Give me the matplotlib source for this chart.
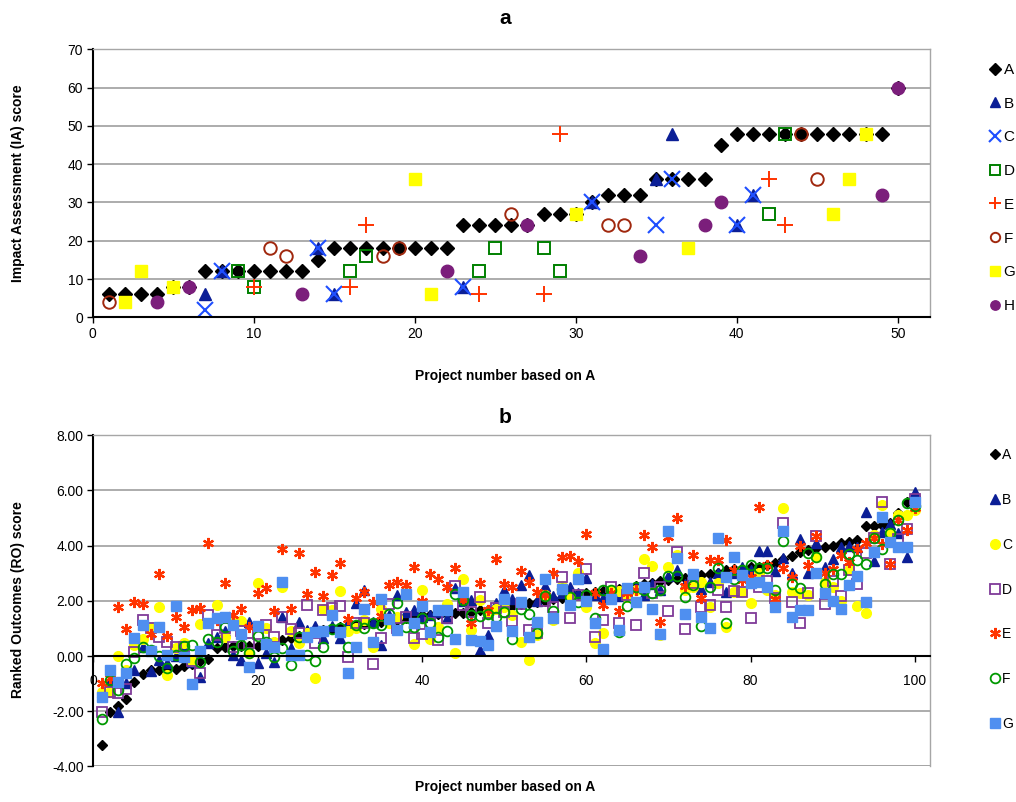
import numpy as np
import matplotlib
matplotlib.use("Agg")
import matplotlib.pyplot as plt
from matplotlib.ticker import FormatStrFormatter

plt.rcParams["font.family"] = ["Liberation Sans", "DejaVu Sans"]
plt.rcParams["axes.unicode_minus"] = False

# ---------------- panel a: Impact Assessment scores ----------------
proj_a = list(range(1, 51))
A_a = [6, 6, 6, 6, 8, 8, 12, 12, 12, 12, 12, 12, 12, 15, 18, 18, 18, 18, 18, 18,
       18, 18, 24, 24, 24, 24, 24, 27, 27, 27, 30, 32, 32, 32, 36, 36, 36, 36, 45, 48,
       48, 48, 48, 48, 48, 48, 48, 48, 48, 60]
B_a_proj = [7, 8, 14, 15, 23, 31, 35, 36, 40, 41]
B_a_val = [6, 12, 18, 6, 8, 30, 36, 48, 24, 32]
C_a_proj = [7, 8, 14, 15, 23, 31, 35, 36, 40, 41]
C_a_val = [2, 12, 18, 6, 8, 30, 24, 36, 24, 32]
D_a_proj = [9, 10, 16, 17, 24, 25, 28, 29, 42, 43]
D_a_val = [12, 8, 12, 16, 12, 18, 18, 12, 27, 48]
E_a_proj = [10, 16, 17, 24, 28, 29, 42, 43]
E_a_val = [8, 8, 24, 6, 6, 48, 36, 24]
F_a_proj = [1, 11, 12, 18, 19, 26, 32, 33, 44, 45]
F_a_val = [4, 18, 16, 16, 18, 27, 24, 24, 48, 36]
G_a_proj = [2, 3, 5, 20, 21, 30, 37, 46, 47, 48]
G_a_val = [4, 12, 8, 36, 6, 27, 18, 27, 36, 48]
H_a_proj = [4, 6, 13, 22, 27, 34, 38, 39, 49, 50]
H_a_val = [4, 8, 6, 12, 24, 16, 24, 30, 32, 60]

# ---------------- panel b: Ranked Outcomes scores ----------------
proj_b = list(range(1, 101))
A_b = [-3.22, -2.04, -1.81, -1.57, -0.93, -0.64, -0.51, -0.51, -0.47, -0.46,
       -0.37, -0.29, -0.19, -0.11, 0.28, 0.34, 0.36, 0.36, 0.36, 0.38,
       0.45, 0.52, 0.58, 0.64, 0.72, 0.80, 0.88, 0.94, 0.98, 1.06,
       1.07, 1.12, 1.15, 1.18, 1.24, 1.26, 1.30, 1.37, 1.42, 1.47,
       1.49, 1.51, 1.53, 1.55, 1.55, 1.60, 1.66, 1.67, 1.71, 1.79,
       1.82, 1.87, 1.93, 1.97, 1.98, 2.05, 2.11, 2.17, 2.23, 2.28,
       2.32, 2.37, 2.40, 2.43, 2.47, 2.54, 2.60, 2.66, 2.72, 2.77,
       2.80, 2.81, 2.87, 2.93, 2.97, 3.00, 3.12, 3.14, 3.14, 3.21,
       3.22, 3.30, 3.36, 3.50, 3.64, 3.78, 3.84, 3.90, 3.94, 3.99,
       4.10, 4.14, 4.20, 4.72, 4.72, 4.75, 4.81, 5.17, 5.57, 5.60]
B_b = [-1.30, -0.90, -2.04, -0.99, -0.50, 0.34, -0.53, -0.14, -0.24, 0.00,
       0.30, -0.20, -0.75, 0.48, 0.70, 0.90, 0.04, -0.14, 1.24, -0.24,
       0.10, -0.21, 1.43, 0.28, 1.24, 0.94, 1.10, 0.64, 1.09, 0.64,
       1.18, 1.91, 2.39, 1.24, 0.40, 1.50, 2.21, 1.60, 1.67, 1.40,
       1.49, 1.61, 1.36, 2.45, 2.00, 2.03, 0.22, 0.76, 1.91, 2.39,
       2.05, 2.57, 2.93, 2.00, 2.54, 2.17, 2.30, 2.51, 2.30, 2.81,
       2.20, 2.09, 2.30, 2.17, 2.30, 2.50, 2.21, 2.60, 2.39, 2.90,
       3.10, 2.60, 2.70, 2.42, 2.69, 3.00, 2.33, 3.00, 3.21, 3.12,
       3.82, 3.82, 3.09, 3.54, 3.00, 4.23, 3.02, 4.11, 3.21, 3.50,
       3.96, 4.00, 3.94, 5.23, 3.45, 4.50, 4.78, 4.47, 3.57, 5.95]
C_b = [-1.29, -1.30, 0.00, -0.50, 0.40, 0.62, 1.00, 1.79, -0.70, 0.30,
       0.46, -0.19, 1.15, 1.20, 1.85, 0.68, 1.24, 1.28, 0.12, 2.66,
       1.00, 0.50, 2.51, 0.90, 0.48, 0.85, -0.81, 1.69, 1.67, 2.37,
       0.90, 1.00, 1.30, 0.31, 1.69, 1.20, 1.43, 2.27, 0.43, 2.39,
       0.60, 1.04, 1.88, 0.10, 2.78, 0.94, 2.03, 1.60, 1.69, 1.79,
       1.50, 0.52, -0.14, 0.76, 2.20, 1.30, 2.54, 2.13, 3.00, 1.79,
       0.48, 0.85, 2.39, 2.36, 2.13, 2.40, 3.50, 3.26, 0.76, 3.24,
       3.66, 2.39, 2.51, 2.69, 1.79, 2.63, 1.06, 2.33, 2.33, 1.91,
       3.00, 2.39, 2.20, 5.35, 2.33, 2.27, 2.21, 3.57, 2.69, 2.51,
       2.00, 3.12, 1.81, 1.55, 4.38, 5.47, 4.44, 5.11, 5.11, 5.30]
D_b = [-2.04, -1.29, -1.35, -1.21, 0.16, 1.30, 1.00, 0.70, 0.50, 0.31,
       0.34, -0.19, -0.60, 1.50, 0.76, 1.00, 0.34, 0.90, 0.48, 0.80,
       1.12, 0.68, 1.43, 0.97, 0.85, 1.85, 0.48, 1.67, 1.73, 1.81,
       -0.02, 1.18, 1.18, -0.29, 0.64, 1.88, 1.00, 1.43, 0.64, 0.80,
       1.20, 0.58, 1.36, 2.54, 1.85, 1.61, 2.13, 1.21, 1.73, 1.60,
       1.28, 1.90, 0.94, 0.82, 2.00, 1.76, 2.87, 1.36, 2.21, 3.14,
       0.70, 1.30, 2.49, 1.18, 2.20, 1.12, 3.02, 2.27, 2.50, 1.64,
       3.78, 0.97, 2.63, 1.76, 1.85, 2.40, 1.76, 2.37, 2.33, 1.36,
       2.50, 2.70, 2.09, 4.83, 1.97, 1.18, 2.30, 4.35, 1.88, 2.73,
       2.17, 3.12, 2.61, 3.74, 4.26, 5.59, 3.33, 4.23, 4.59, 5.70]
E_b = [-0.97, -0.80, 1.76, 0.97, 1.97, 1.88, 0.79, 2.96, 0.74, 1.40,
       1.04, 1.67, 1.73, 4.10, 1.30, 2.63, 1.50, 1.69, 1.06, 2.29,
       2.45, 1.64, 3.86, 1.69, 3.74, 2.25, 3.06, 2.17, 2.93, 3.36,
       1.33, 2.09, 2.33, 1.97, 1.45, 2.57, 2.69, 2.57, 3.21, 2.00,
       2.96, 2.79, 2.50, 3.18, 2.03, 1.18, 2.66, 1.67, 3.50, 2.61,
       2.49, 3.09, 2.69, 2.33, 2.20, 3.02, 3.60, 3.62, 3.45, 4.42,
       2.29, 1.85, 2.29, 1.64, 2.30, 2.39, 4.38, 3.94, 1.24, 4.30,
       4.99, 2.54, 3.66, 2.09, 3.48, 3.48, 4.20, 3.12, 2.75, 2.87,
       5.39, 3.30, 2.05, 3.20, 2.86, 3.99, 3.30, 4.35, 3.00, 3.14,
       3.66, 3.42, 3.86, 4.11, 4.26, 4.06, 3.33, 4.93, 4.57, 5.35]
F_b = [-2.30, -0.87, -1.23, -0.30, -0.08, 0.34, 0.20, 0.00, -0.45, 0.04,
       0.36, 0.40, -0.23, 0.60, 0.52, 1.04, 0.19, 0.40, 0.12, 0.72,
       0.50, -0.05, 0.28, -0.33, 0.70, 0.04, -0.17, 0.31, 0.97, 1.00,
       0.31, 1.12, 1.00, 1.20, 1.12, 1.52, 1.93, 1.06, 1.06, 1.36,
       1.18, 0.70, 0.92, 2.25, 2.03, 1.50, 1.45, 1.52, 1.43, 1.61,
       0.60, 1.69, 1.52, 0.85, 2.17, 1.64, 2.42, 2.15, 1.97, 2.20,
       1.36, 2.39, 2.40, 0.88, 1.81, 2.50, 2.39, 2.27, 2.39, 2.90,
       2.90, 2.13, 2.57, 1.09, 2.49, 3.18, 1.18, 2.78, 3.10, 3.30,
       3.18, 3.20, 2.39, 4.17, 2.62, 2.45, 3.72, 3.57, 2.61, 2.97,
       2.97, 3.70, 3.48, 3.33, 4.26, 3.86, 4.44, 4.93, 5.56, 5.43]
G_b = [-1.47, -0.50, -0.95, -0.63, 0.64, 1.12, 0.17, 1.06, 0.04, 1.81,
       -0.02, -1.03, 0.19, 1.18, 1.36, 1.43, 1.12, 0.80, -0.41, 1.09,
       0.43, 0.31, 2.69, 0.04, 0.04, 0.68, 0.88, 0.92, 1.49, 0.88,
       -0.63, 0.34, 1.69, 0.52, 2.05, 1.33, 0.94, 2.25, 1.18, 1.81,
       0.88, 1.67, 1.67, 0.60, 2.33, 0.58, 0.56, 0.40, 1.09, 2.05,
       0.92, 1.97, 0.70, 1.24, 2.78, 1.36, 2.42, 1.85, 2.78, 2.00,
       1.21, 0.24, 2.05, 0.94, 2.45, 1.97, 2.51, 1.69, 0.80, 4.54,
       3.54, 1.52, 2.97, 1.43, 1.00, 4.26, 2.85, 3.57, 2.93, 2.66,
       2.69, 2.51, 1.76, 4.54, 1.43, 1.67, 1.67, 3.02, 2.29, 2.00,
       1.69, 2.57, 2.90, 1.97, 3.78, 5.02, 4.14, 3.94, 3.94, 5.59]

W, H = 1016, 802
fig = plt.figure(figsize=(W / 100, H / 100), dpi=100)
fig.patch.set_facecolor("white")


def px_axes(left, top, right, bottom):
    return fig.add_axes([left / W, 1 - bottom / H, (right - left) / W, (bottom - top) / H])


GRID = "#A6A6A6"
NAVY = "#0B1E96"

# ---------------- panel a ----------------
ax1 = px_axes(92.7, 49.3, 930, 317.3)
ax1.plot(proj_a, A_a, ls="none", marker="D", ms=7.5, color="black", label="A")
ax1.plot(B_a_proj, B_a_val, ls="none", marker="^", ms=9, color=NAVY, label="B")
ax1.plot(C_a_proj, C_a_val, ls="none", marker="x", ms=11, mew=1.5, color="#1F4FFF", label="C")
ax1.plot(D_a_proj, D_a_val, ls="none", marker="s", ms=9, mfc="none", mew=1.4, color="#008000", label="D")
ax1.plot(E_a_proj, E_a_val, ls="none", marker="+", ms=12, mew=1.4, color="#FF3300", label="E")
ax1.plot(F_a_proj, F_a_val, ls="none", marker="o", ms=9, mfc="none", mew=1.4, color="#A0280E", label="F")
ax1.plot(G_a_proj, G_a_val, ls="none", marker="s", ms=9, color="#FFFF00", label="G")
ax1.plot(H_a_proj, H_a_val, ls="none", marker="o", ms=9, color="#7B1E7B", label="H")

ax1.set_xlim(0, (930 - 92.7) / 16.1)
ax1.set_ylim(0, 70)
ax1.set_xticks(range(0, 51, 10))
ax1.set_yticks(range(0, 71, 10))
ax1.set_axisbelow(True)
ax1.yaxis.grid(True, color=GRID, lw=1.3)
for s in ("top", "right"):
    ax1.spines[s].set_color(GRID)
    ax1.spines[s].set_linewidth(1.0)
for s in ("left", "bottom"):
    ax1.spines[s].set_color("black")
    ax1.spines[s].set_linewidth(1.5)
ax1.tick_params(direction="out", length=4, width=1, labelsize=10, pad=3)

ax1.legend(loc="upper left", bbox_to_anchor=(989 / W, 1 - 63 / H), bbox_transform=fig.transFigure,
           frameon=False, handlelength=0.8, handletextpad=0.15, labelspacing=1.29,
           fontsize=11, borderpad=0, borderaxespad=0, markerscale=0.75)

# ---------------- panel b ----------------
ax2 = px_axes(93.4, 435.2, 930, 766.4)
ax2.plot(proj_b, A_b, ls="none", marker="D", ms=5.5, color="black", label="A")
ax2.plot(proj_b, B_b, ls="none", marker="^", ms=7, color=NAVY, label="B")
ax2.plot(proj_b, C_b, ls="none", marker="o", ms=7, color="#FFFF00", label="C")
ax2.plot(proj_b, D_b, ls="none", marker="s", ms=7, mfc="none", mew=1.3, color="#7F3A98", label="D")
ax2.plot(proj_b, E_b, ls="none", marker=(6, 2, 0), ms=8, mew=1.6, color="#FF3300", label="E")
ax2.plot(proj_b, F_b, ls="none", marker="o", ms=7, mfc="none", mew=1.3, color="#009900", label="F")
ax2.plot(proj_b, G_b, ls="none", marker="s", ms=7, color="#4F8FF0", label="G")

ax2.set_xlim(0, (930 - 93.4) / 8.215)
ax2.set_ylim(-4, 8)
ax2.set_xticks(range(0, 101, 20))
ax2.set_yticks(np.arange(-4, 8.01, 2))
ax2.yaxis.set_major_formatter(FormatStrFormatter("%.2f"))
ax2.set_axisbelow(True)
ax2.yaxis.grid(True, color=GRID, lw=1.3)
ax2.spines["bottom"].set_position(("data", 0))
ax2.spines["bottom"].set_color("black")
ax2.spines["bottom"].set_linewidth(1.5)
ax2.spines["left"].set_color("black")
ax2.spines["left"].set_linewidth(1.5)
for s in ("top", "right"):
    ax2.spines[s].set_color(GRID)
    ax2.spines[s].set_linewidth(1.0)
ax2.axhline(-4, color=GRID, lw=2.0, zorder=0.5)
ax2.tick_params(direction="out", length=4, width=1, labelsize=10, pad=3)
ax2.tick_params(axis="x", pad=9)

ax2.legend(loc="upper left", bbox_to_anchor=(989 / W, 1 - 448 / H), bbox_transform=fig.transFigure,
           frameon=False, handlelength=0.8, handletextpad=0.15, labelspacing=2.22,
           fontsize=10, borderpad=0, borderaxespad=0, markerscale=1.0)

# ---------------- titles and axis labels ----------------
fig.text(505 / W, 1 - 18 / H, "a", ha="center", va="center", fontsize=15, fontweight="bold")
fig.text(505 / W, 1 - 418 / H, "b", ha="center", va="center", fontsize=15, fontweight="bold")
fig.text(505 / W, 1 - 376 / H, "Project number based on A", ha="center", va="center",
         fontsize=10, fontweight="bold")
fig.text(505 / W, 1 - 787 / H, "Project number based on A", ha="center", va="center",
         fontsize=10, fontweight="bold")
fig.text(18 / W, 1 - 183 / H, "Impact Assessment (IA) score", ha="center", va="center",
         rotation=90, fontsize=10, fontweight="bold")
fig.text(18 / W, 1 - 600 / H, "Ranked Outcomes (RO) score", ha="center", va="center",
         rotation=90, fontsize=10, fontweight="bold")

fig.savefig("out.png", dpi=100, facecolor="white")
